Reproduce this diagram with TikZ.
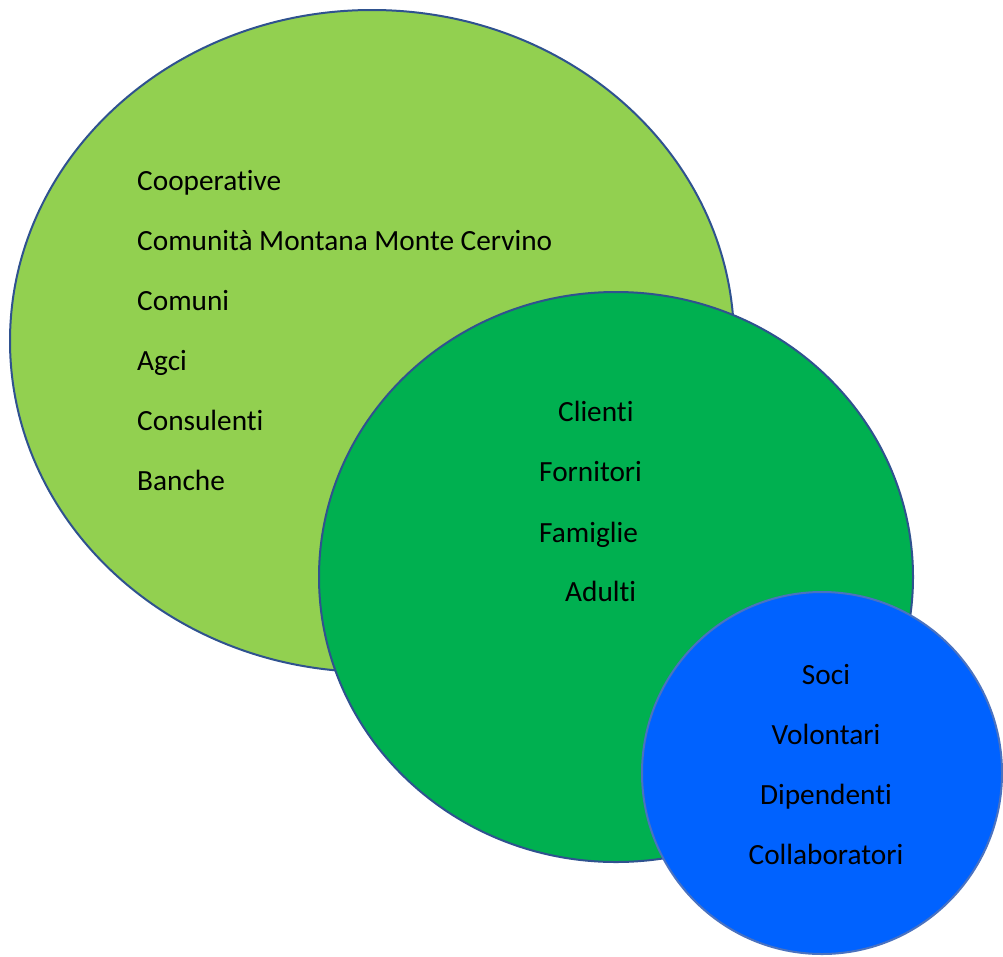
\documentclass[tikz,border=0pt]{standalone}
\usepackage{fontspec}
\setmainfont{Carlito}[Ligatures=NoCommon]
\definecolor{lgreen}{HTML}{92D050}
\definecolor{mgreen}{HTML}{00B050}
\definecolor{vblue}{HTML}{0062FF}
\definecolor{edgeblue}{HTML}{2F528F}
\definecolor{edgelblue}{HTML}{4A72C0}
\tikzset{
  bubble/.style={line width=2pt},
  lbl/.style={font=\fontsize{29.3}{34}\selectfont, inner sep=0pt, text=black},
}
\begin{document}
\begin{tikzpicture}[x=1pt,y=-1pt]
\useasboundingbox (0,0) rectangle (1003,956);
\path[bubble, fill=lgreen, draw=edgeblue] (372,341) ellipse [x radius=362, y radius=331];
\path[bubble, fill=mgreen, draw=edgeblue] (616,577) ellipse [x radius=297, y radius=285];
\path[bubble, fill=vblue, draw=edgelblue] (822,773) ellipse [x radius=180, y radius=181];
% outer texts
\node[lbl, anchor=base west] (t1) at (137,190) {Cooperative};
\node[lbl, anchor=base west] (t2) at (137,250) {Comunità Montana Monte Cervino};
\node[lbl, anchor=base west] (t3) at (137,310) {Comuni};
\node[lbl, anchor=base west] (t4) at (137,370) {Agci};
\node[lbl, anchor=base west] (t5) at (137,430) {Consulenti};
\node[lbl, anchor=base west] (t6) at (137,490) {Banche};
% middle texts
\node[lbl, anchor=base west] (m1) at (558,421) {Clienti};
\node[lbl, anchor=base west] (m2) at (539,481) {Fornitori};
\node[lbl, anchor=base west] (m3) at (539,542) {Famiglie};
\node[lbl, anchor=base west] (m4) at (565,601) {Adulti};
% inner texts
\node[lbl, anchor=base] (i1) at (826,684) {Soci};
\node[lbl, anchor=base] (i2) at (826,744) {Volontari};
\node[lbl, anchor=base] (i3) at (826,804) {Dipendenti};
\node[lbl, anchor=base] (i4) at (826,864) {Collaboratori};
\end{tikzpicture}
\end{document}
